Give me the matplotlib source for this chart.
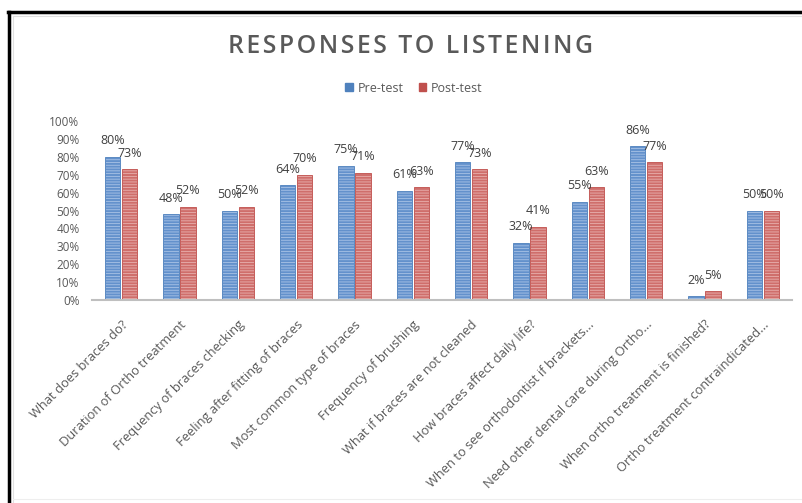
import matplotlib
matplotlib.use("Agg")
import matplotlib.pyplot as plt
import numpy as np
from matplotlib.lines import Line2D
from matplotlib.patches import Patch

categories = [
    "What does braces do?",
    "Duration of Ortho treatment",
    "Frequency of braces checking",
    "Feeling after fitting of braces",
    "Most common type of braces",
    "Frequency of brushing",
    "What if braces are not cleaned",
    "How braces affect daily life?",
    "When to see orthodontist if brackets...",
    "Need other dental care during Ortho...",
    "When ortho treatment is finished?",
    "Ortho treatment contraindicated...",
]
pre_test = [80, 48, 50, 64, 75, 61, 77, 32, 55, 86, 2, 50]
post_test = [73, 52, 52, 70, 71, 63, 73, 41, 63, 77, 5, 50]
y_ticks = [0, 10, 20, 30, 40, 50, 60, 70, 80, 90, 100]
title = "RESPONSES TO LISTENING"

FONT = ["Open Sans", "DejaVu Sans"]
plt.rcParams["font.family"] = FONT
plt.rcParams["hatch.linewidth"] = 0.6

W, H = 802, 503
fig = plt.figure(figsize=(W / 100, H / 100), dpi=100)
ax = fig.add_axes([92 / W, 1 - 300 / H, 700 / W, 179 / H])

x = np.arange(len(categories))
bw = 0.26
off = 0.145
blue = "#4F81BD"
red = "#C0504D"
b1 = ax.bar(x - off, [v / 100 for v in pre_test], bw, color="#6391CC",
            edgecolor="#4F81BD", linewidth=0.6)
b2 = ax.bar(x + off, [v / 100 for v in post_test], bw, color="#CF6E6B",
            edgecolor="#C0504D", linewidth=0.6)
for r in b1:
    r.set_hatch("------")
    r._hatch_color = matplotlib.colors.to_rgba("#A9C3E6")
for r in b2:
    r.set_hatch("------")
    r._hatch_color = matplotlib.colors.to_rgba("#E8B0AE")

for xi, v in zip(x, pre_test):
    ax.annotate(f"{v}%", (xi - off, v / 100), xytext=(0, 11.5), textcoords="offset points",
                ha="center", va="center", fontsize=9, color="#404040")
for xi, v in zip(x, post_test):
    ax.annotate(f"{v}%", (xi + off, v / 100), xytext=(0, 11.5), textcoords="offset points",
                ha="center", va="center", fontsize=9, color="#404040")

ax.set_xlim(-0.5, len(categories) - 0.5)
ax.set_ylim(0, 1.0)
ax.set_yticks([t / 100 for t in y_ticks])
ax.set_yticklabels([f"{t}%" for t in y_ticks], fontsize=8.5, color="#595959")
ax.set_xticks(x)
ax.set_xticklabels(categories, rotation=45, ha="right", va="top",
                   rotation_mode="anchor", fontsize=9.3, color="#595959")
ax.tick_params(axis="both", length=0)
ax.tick_params(axis="y", pad=9)
ax.tick_params(axis="x", pad=13)
for s in ["top", "right", "left"]:
    ax.spines[s].set_visible(False)
ax.spines["bottom"].set_color("#BFBFBF")
ax.spines["bottom"].set_linewidth(1.5)

spaced_title = "\u200a".join(title)
fig.text(410 / W, 1 - 46 / H, spaced_title, ha="center", va="center",
         fontsize=17.8, color="#595959", fontweight="semibold")

handles = [Patch(facecolor=blue, edgecolor=blue), Patch(facecolor=red, edgecolor=red)]
fig.legend(handles, ["Pre-test", "Post-test"], loc="center", bbox_to_anchor=(414 / W, 1 - 88 / H),
           ncol=2, frameon=False, fontsize=9, handlelength=0.6, handleheight=0.6,
           handletextpad=0.4, columnspacing=1.2, labelcolor="#595959")

# outer border (thick black) and inner faint border
fig.add_artist(Line2D([8.5 / W, 8.5 / W], [0, 1 - 11.5 / H], transform=fig.transFigure,
                      color="black", lw=2.5))
fig.add_artist(Line2D([7.5 / W, 1], [1 - 11.5 / H, 1 - 11.5 / H], transform=fig.transFigure,
                      color="black", lw=2.5))
fig.add_artist(Line2D([13 / W, 13 / W], [0, 1 - 16 / H], transform=fig.transFigure,
                      color="#E0E0E0", lw=0.8))
fig.add_artist(Line2D([13 / W, 1], [1 - 16 / H, 1 - 16 / H], transform=fig.transFigure,
                      color="#E0E0E0", lw=0.8))
fig.add_artist(Line2D([13 / W, 1], [1 - 499 / H, 1 - 499 / H], transform=fig.transFigure,
                      color="#EEEEEE", lw=0.8))

fig.savefig("out.png", dpi=100)
